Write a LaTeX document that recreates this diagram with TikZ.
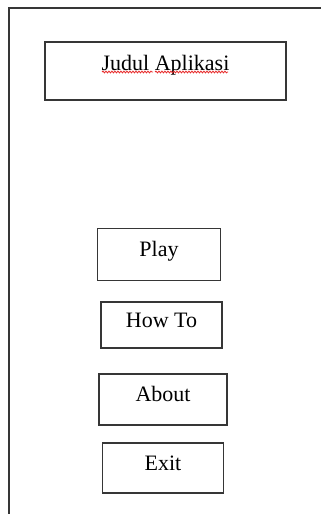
\documentclass[tikz,border=0pt]{standalone}
\usepackage{fontspec}
\setmainfont{Liberation Serif}
\usetikzlibrary{decorations.pathmorphing}
\definecolor{garis}{HTML}{363636}
\definecolor{ejaan}{HTML}{E82A2A}
\tikzset{
  kotak/.style={draw=garis,line width=1.4pt,rectangle,inner sep=0pt,fill=white,
    text height=16pt,text depth=12pt,font=\fontsize{22}{26}\selectfont},
  tombol/.style={kotak,minimum width=122pt,minimum height=50pt},
  bingkai/.style={draw=garis,line width=2pt},
  salah/.style={draw=ejaan,line width=0.8pt,decorate,
    decoration={snake,amplitude=0.9pt,segment length=3pt}},
}

\begin{document}
\begin{tikzpicture}[x=1pt,y=-1pt]
\useasboundingbox (0,0) rectangle (321,514);
% bingkai layar
\draw[bingkai] (9,514) -- (9,8) -- (321,8);
% judul
\node[kotak,text depth=18pt,minimum width=241pt,minimum height=58pt] (judul) at (165.5,71) {Judul Aplikasi};
\draw[salah] (102,72) -- (153,72);
\draw[salah] (155,72) -- (228,72);
% menu
\node[tombol,minimum width=123pt,minimum height=52pt] (play)  at (159,254.5) {Play};
\node[tombol,minimum width=121pt,minimum height=46pt] (howto) at (161.5,325) {How To};
\node[tombol,minimum width=128pt,minimum height=51pt] (about) at (163,399.5) {About};
\node[tombol,minimum width=121pt,minimum height=50pt] (exit)  at (163,468) {Exit};
\end{tikzpicture}
\end{document}
